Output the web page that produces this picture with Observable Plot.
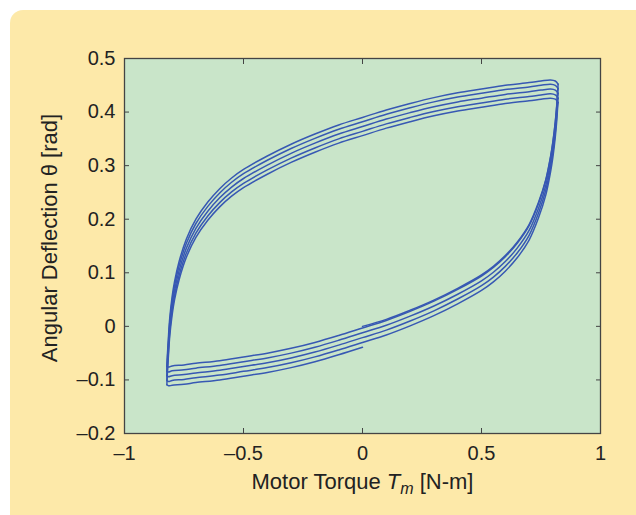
<!DOCTYPE html>
<html><head><meta charset="utf-8">
<script src="https://cdn.jsdelivr.net/npm/d3@7"></script>
<script src="https://cdn.jsdelivr.net/npm/@observablehq/plot@0.6"></script>
<style>
body{margin:0;background:#fff;}
#wrap{position:relative;width:636px;height:515px;overflow:hidden;}
#panel{position:absolute;left:10px;top:10px;width:640px;height:530px;background:#fde9a9;border-radius:13px;}
#chart{position:absolute;left:0;top:0;}
</style></head><body>
<div id="wrap"><div id="panel"></div><div id="chart"></div></div>
<script>
// Tick values and labels
const xTicks = [-1, -0.5, 0, 0.5, 1];
const xTickLabels = ["\u20131", "\u20130.5", "0", "0.5", "1"];
const yTicks = [-0.2, -0.1, 0, 0.1, 0.2, 0.3, 0.4, 0.5];
const yTickLabels = ["\u20130.2", "\u20130.1", "0", "0.1", "0.2", "0.3", "0.4", "0.5"];

// Initial curve from origin (motor torque, angular deflection)
const initX = [0, 0.1, 0.2, 0.3, 0.4, 0.5, 0.55, 0.6, 0.65, 0.7, 0.74, 0.77, 0.79, 0.80, 0.81, 0.816, 0.82, 0.822];
const initY = [0.000, 0.013, 0.030, 0.049, 0.071, 0.096, 0.112, 0.132, 0.157, 0.190, 0.232, 0.274, 0.317, 0.345, 0.382, 0.412, 0.440, 0.452];

// Upper (decreasing torque) branches, loops 1..5
const upperX = [0.822, 0.81, 0.79, 0.75, 0.7, 0.6, 0.5, 0.4, 0.3, 0.2, 0.1, 0, -0.1, -0.2, -0.3, -0.4, -0.5, -0.55, -0.6, -0.65, -0.7, -0.74, -0.77, -0.79, -0.80, -0.81, -0.816, -0.82, -0.822];
const upper1 = [0.452, 0.458, 0.460, 0.458, 0.455, 0.450, 0.443, 0.436, 0.427, 0.416, 0.404, 0.390, 0.376, 0.359, 0.340, 0.318, 0.293, 0.277, 0.257, 0.232, 0.200, 0.163, 0.122, 0.083, 0.055, 0.015, -0.025, -0.055, -0.075];
const upper2 = [0.444, 0.450, 0.452, 0.450, 0.447, 0.442, 0.435, 0.428, 0.419, 0.408, 0.396, 0.382, 0.368, 0.351, 0.332, 0.310, 0.285, 0.269, 0.249, 0.224, 0.192, 0.155, 0.114, 0.075, 0.047, 0.007, -0.033, -0.063, -0.084];
const upper3 = [0.435, 0.441, 0.443, 0.441, 0.438, 0.433, 0.426, 0.419, 0.410, 0.399, 0.387, 0.373, 0.359, 0.342, 0.323, 0.301, 0.276, 0.260, 0.240, 0.215, 0.183, 0.146, 0.105, 0.066, 0.038, -0.002, -0.042, -0.072, -0.092];
const upper4 = [0.426, 0.432, 0.434, 0.432, 0.429, 0.424, 0.417, 0.410, 0.401, 0.390, 0.378, 0.364, 0.350, 0.333, 0.314, 0.292, 0.267, 0.251, 0.231, 0.206, 0.174, 0.137, 0.096, 0.057, 0.029, -0.011, -0.051, -0.081, -0.101];
const upper5 = [0.418, 0.424, 0.426, 0.424, 0.421, 0.416, 0.409, 0.402, 0.393, 0.382, 0.370, 0.356, 0.342, 0.325, 0.306, 0.284, 0.259, 0.243, 0.223, 0.198, 0.166, 0.129, 0.088, 0.049, 0.021, -0.019, -0.059, -0.089, -0.109];

// Lower (increasing torque) branches, loops 1..5 (last one stops at zero torque)
const lowerX = [-0.822, -0.815, -0.80, -0.75, -0.70, -0.60, -0.50, -0.40, -0.30, -0.20, -0.10, 0.00, 0.10, 0.20, 0.30, 0.40, 0.50, 0.55, 0.60, 0.65, 0.70, 0.74, 0.77, 0.79, 0.80, 0.81, 0.816, 0.82, 0.822];
const lower1 = [-0.075, -0.076, -0.074, -0.072, -0.069, -0.064, -0.057, -0.050, -0.041, -0.030, -0.017, -0.003, 0.011, 0.028, 0.047, 0.069, 0.094, 0.110, 0.130, 0.155, 0.188, 0.230, 0.272, 0.315, 0.343, 0.380, 0.410, 0.436, 0.444];
const lower2 = [-0.084, -0.085, -0.083, -0.081, -0.078, -0.073, -0.066, -0.059, -0.050, -0.039, -0.026, -0.012, 0.002, 0.019, 0.038, 0.060, 0.085, 0.101, 0.121, 0.146, 0.179, 0.221, 0.263, 0.306, 0.334, 0.371, 0.401, 0.427, 0.435];
const lower3 = [-0.092, -0.094, -0.092, -0.090, -0.087, -0.082, -0.075, -0.068, -0.059, -0.048, -0.035, -0.021, -0.007, 0.010, 0.029, 0.051, 0.076, 0.092, 0.112, 0.137, 0.170, 0.212, 0.254, 0.297, 0.325, 0.362, 0.392, 0.418, 0.426];
const lower4 = [-0.101, -0.103, -0.101, -0.099, -0.096, -0.091, -0.084, -0.077, -0.068, -0.057, -0.044, -0.030, -0.016, 0.001, 0.020, 0.042, 0.067, 0.083, 0.103, 0.128, 0.161, 0.203, 0.245, 0.288, 0.316, 0.353, 0.383, 0.409, 0.418];
const lower5 = [-0.109, -0.111, -0.110, -0.108, -0.105, -0.100, -0.093, -0.086, -0.077, -0.066, -0.053, -0.039];

const branches = [
  [initX, initY],
  [upperX, upper1], [lowerX, lower1],
  [upperX, upper2], [lowerX, lower2],
  [upperX, upper3], [lowerX, lower3],
  [upperX, upper4], [lowerX, lower4],
  [upperX, upper5], [lowerX, lower5]
];
const rows = branches.flatMap(([xs, ys], k) => ys.map((y, i) => ({x: xs[i], y, k})));

const plot = Plot.plot({
  width: 636, height: 515,
  marginLeft: 124, marginRight: 36, marginTop: 58, marginBottom: 82,
  style: {background: "transparent", fontFamily: "'Liberation Sans', Arial, sans-serif", fontSize: "20px", color: "#222", overflow: "visible"},
  x: {domain: [-1, 1]},
  y: {domain: [-0.2, 0.5]},
  marks: [
    Plot.frame({fill: "#c9e5c9", stroke: null}),
    Plot.line(rows, {x: "x", y: "y", z: "k", stroke: "#3758b3", strokeWidth: 1.5, curve: "catmull-rom"}),
    Plot.axisX(xTicks, {anchor: "bottom", tickSize: -5, tickPadding: 17, tickFormat: d => xTickLabels[xTicks.indexOf(d)], label: null, stroke: "#444"}),
    Plot.axisX(xTicks, {anchor: "top", tickSize: -5, tickFormat: () => "", label: null, stroke: "#444"}),
    Plot.axisY(yTicks, {anchor: "left", tickSize: -5, tickPadding: 14, tickFormat: d => yTickLabels[yTicks.indexOf(d)], label: null, stroke: "#444"}),
    Plot.axisY(yTicks, {anchor: "right", tickSize: -5, tickFormat: () => "", label: null, stroke: "#444"}),
    Plot.frame({stroke: "#444", strokeWidth: 1.3})
  ]
});

const svg = d3.select(plot);
const xl = svg.append("text").attr("x", 362.5).attr("y", 489).attr("text-anchor", "middle")
  .attr("font-size", 22).attr("fill", "#222");
xl.append("tspan").text("Motor Torque ");
xl.append("tspan").attr("font-style", "italic").text("T");
xl.append("tspan").attr("font-style", "italic").attr("font-size", 16).attr("dy", 5).text("m");
xl.append("tspan").attr("dy", -5).text(" [N-m]");

svg.append("text").attr("transform", "translate(57,238) rotate(-90)").attr("text-anchor", "middle")
  .attr("font-size", 22).attr("fill", "#222").text("Angular Deflection \u03b8 [rad]");

document.getElementById("chart").appendChild(plot);
</script>
</body></html>
